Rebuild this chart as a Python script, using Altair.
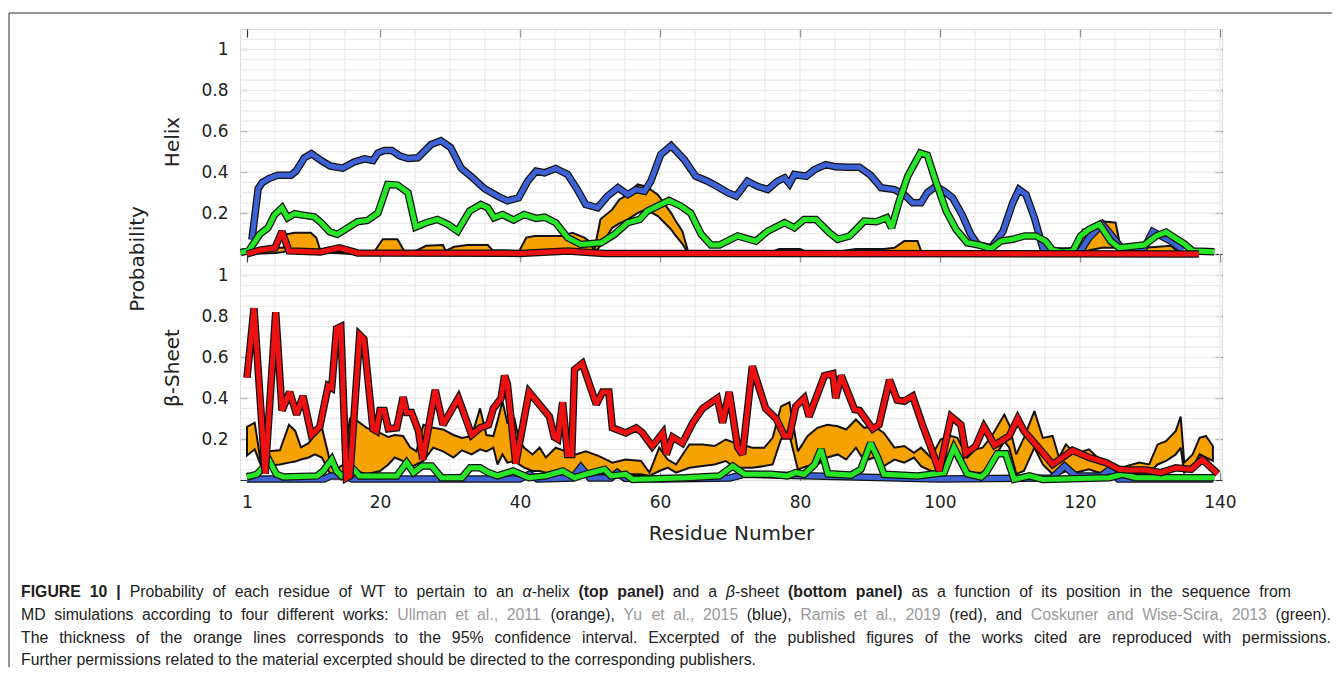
import altair as alt
import pandas as pd

# ---------------- values ----------------
# Helix (top panel)
helix_blue_x = [1.7, 2.6, 3.2, 4.2, 5.4, 7.3, 8, 9.2, 10.2, 11.6, 12.9, 14.7, 16.3, 17.8, 19, 19.7, 20.6, 21.7, 22.8, 24,
                25.4, 27.3, 28.7, 30.1, 31.6, 33, 34.9, 36.8, 38.2, 39.8, 41.1, 42.3, 43.5, 45.1, 46.8, 48.2, 49.4, 51.1,
                52.5, 54, 55.4, 56.6, 57.8, 58.7, 60.1, 61.6, 63.5, 65.1, 66.8, 68.2, 69.7, 70.9, 72.5, 74, 75.4, 76.8,
                77.8, 78.5, 79.2, 80.9, 82.1, 83.7, 85.1, 86.8, 88.5, 90.1, 91.6, 93.5, 94.9, 96.1, 97.3, 98.2, 99.4,
                100.6, 101.8, 103.2, 104.4, 105.4, 107.3, 109, 110.4, 111.3, 112.3, 113.5, 114.7, 115.9, 118.2, 120.1,
                121.3, 123.2, 124.4, 125.9, 129.2, 130.4, 131.6, 133, 134.7]
helix_blue_y = [0.07, 0.32, 0.35, 0.37, 0.385, 0.385, 0.405, 0.47, 0.49, 0.457, 0.43, 0.42, 0.45, 0.465, 0.457, 0.494,
                0.506, 0.506, 0.48, 0.467, 0.47, 0.535, 0.554, 0.52, 0.42, 0.38, 0.32, 0.283, 0.26, 0.275, 0.356, 0.405,
                0.397, 0.418, 0.389, 0.315, 0.242, 0.226, 0.283, 0.324, 0.291, 0.315, 0.307, 0.356, 0.486, 0.53, 0.46,
                0.38, 0.356, 0.33, 0.30, 0.283, 0.356, 0.33, 0.315, 0.356, 0.372, 0.343, 0.389, 0.38, 0.413, 0.437,
                0.426, 0.424, 0.424, 0.385, 0.324, 0.315, 0.29, 0.25, 0.25, 0.30, 0.33, 0.307, 0.275, 0.19, 0.096,
                0.047, 0.03, 0.11, 0.25, 0.315, 0.29, 0.177, 0.03, 0.015, 0.015, 0.015, 0.08, 0.145, 0.096, 0.03, 0.03,
                0.11, 0.088, 0.063, 0.018]
helix_green_x = [0.1, 1.3, 2.8, 4, 4.9, 6, 6.8, 7.8, 9, 10.6, 11.6, 12.8, 13.9, 15.4, 16.8, 18.2, 19.7, 21.1, 22.5, 24,
                 25.1, 26.6, 28.2, 29.7, 31.1, 32.8, 34.4, 35.4, 36.3, 37.5, 39.1, 40.6, 42.3, 43.5, 45.1, 46.8, 48.7,
                 51.6, 53.5, 55.4, 57.1, 58.2, 61.3, 63, 64.4, 65.9, 67.3, 68.5, 71.1, 73.7, 75.4, 77.8, 79.2, 80.6,
                 82.3, 84.2, 85.4, 87.1, 89.2, 90.9, 92.4, 93.1, 94.2, 95.4, 96.3, 97.2, 98.2, 99.4, 100.9, 102.3,
                 103.9, 105.6, 107.3, 108.7, 110.4, 112.1, 113.7, 115.1, 116.1, 117.5, 119, 120.1, 121.3, 122.8, 124.4,
                 125.6, 129.2, 130.9, 132.3, 133.5, 134.9, 136.1, 139.2]
helix_green_y = [0.007, 0.018, 0.096, 0.128, 0.19, 0.226, 0.177, 0.197, 0.19, 0.182, 0.153, 0.109, 0.096, 0.128, 0.158,
                 0.164, 0.2, 0.34, 0.337, 0.3, 0.132, 0.153, 0.169, 0.145, 0.112, 0.21, 0.242, 0.226, 0.177, 0.193,
                 0.166, 0.193, 0.174, 0.18, 0.153, 0.08, 0.047, 0.055, 0.096, 0.153, 0.169, 0.21, 0.262, 0.234, 0.2,
                 0.096, 0.044, 0.044, 0.088, 0.063, 0.112, 0.153, 0.128, 0.169, 0.169, 0.104, 0.072, 0.088, 0.161,
                 0.158, 0.177, 0.128, 0.26, 0.38, 0.437, 0.494, 0.483, 0.356, 0.21, 0.12, 0.055, 0.044, 0.026, 0.063,
                 0.072, 0.088, 0.088, 0.063, 0.018, 0.01, 0.015, 0.088, 0.12, 0.145, 0.063, 0.031, 0.044, 0.088,
                 0.107, 0.08, 0.05, 0.015, 0.011]
helix_red_x = [1, 3, 5, 6, 7, 11.5, 14.2, 16.8, 40, 46.8, 52, 137]
helix_red_y = [0, 0.02, 0.03, 0.11, 0.015, 0.01, 0.03, 0.005, 0.003, 0.015, 0.003, 0]
helix_orange_x = [1, 3, 5, 6.2, 6.6, 7.8, 10.1, 10.9, 11.5, 16, 19.2, 20.4, 22.5, 23.5, 24.9, 26.6, 29, 29.4, 30.6,
                  32.5, 35.4, 36.1, 39.9, 40.9, 42.1, 45.9, 47.5, 49.2, 49.9, 50.6, 51.5, 53.2, 54.2, 55.4, 56.8, 58,
                  59.7, 61.6, 62.1, 63.2, 64, 76, 77, 80, 81, 86, 88, 92, 93.5, 94.9, 96.8, 97.3, 120, 120.4, 121.5,
                  123.2, 125.1, 125.9, 129.2, 133, 134, 137]
helix_orange_lo = [0, 0.003, 0.005, 0.01, 0.015, 0.02, 0.015, 0.01, 0.008, 0, 0.003, 0.01, 0.01, 0.004, 0.004, 0.01,
                   0.01, 0.005, 0.01, 0.01, 0.01, 0.005, 0.005, 0.01, 0.01, 0.01, 0.01, 0.01, 0.01, 0.005, 0.04, 0.128,
                   0.15, 0.169, 0.2, 0.218, 0.185, 0.12, 0.096, 0.05, 0.005, 0.003, 0.005, 0.005, 0.003, 0.005, 0.005,
                   0.005, 0.01, 0.01, 0.01, 0.005, 0.003, 0.01, 0.02, 0.03, 0.03, 0.01, 0.01, 0.01, 0.005, 0]
helix_orange_hi = [0.005, 0.02, 0.03, 0.03, 0.096, 0.104, 0.104, 0.08, 0.015, 0.01, 0.012, 0.072, 0.072, 0.012, 0.012,
                   0.04, 0.044, 0.015, 0.035, 0.044, 0.044, 0.018, 0.015, 0.08, 0.088, 0.088, 0.104, 0.08, 0.063,
                   0.015, 0.17, 0.218, 0.267, 0.29, 0.34, 0.33, 0.29, 0.2, 0.17, 0.112, 0.015, 0.01, 0.025, 0.025,
                   0.01, 0.015, 0.025, 0.025, 0.03, 0.063, 0.063, 0.015, 0.01, 0.12, 0.13, 0.16, 0.153, 0.015, 0.03,
                   0.04, 0.012, 0.005]

# Beta-sheet (bottom panel)
sheet_blue_x = [1, 12, 13, 15, 16, 40, 41.3, 42.5, 47.5, 48.7, 50, 53, 53.9, 55, 60, 70, 72, 100, 116, 117.8, 119.4,
                123, 124.2, 125.5, 139]
sheet_blue_y = [0.005, 0.005, 0.02, 0.02, 0.005, 0.005, 0.028, 0.005, 0.01, 0.063, 0.01, 0.01, 0.036, 0.008, 0.005,
                0.01, 0.028, 0.005, 0.01, 0.068, 0.02, 0.02, 0.05, 0.005, 0.005]
sheet_green_x = [1, 2.4, 3.3, 4.2, 5.2, 6.2, 11, 11.9, 13.1, 13.8, 14.5, 16, 17.1, 22.4, 23.8, 24.8, 26, 27.4, 28.8,
                 31.7, 32.9, 34.3, 35.5, 36.8, 39, 41.3, 43.7, 46.1, 47.8, 49.4, 52.1, 53, 55.1, 56.1, 63.7, 68.5, 70.4,
                 72.1, 75.9, 78.2, 79.4, 80.6, 82.1, 83, 84, 87.3, 88.7, 90.1, 91.1, 92, 96.8, 100.6, 102, 103.9,
                 105.9, 106.6, 108.2, 109.4, 110.6, 112.8, 114.7, 124.2, 126.1, 128, 139.2]
sheet_green_y = [0.015, 0.028, 0.06, 0.093, 0.028, 0.015, 0.02, 0.044, 0.10, 0.044, 0.02, 0.06, 0.02, 0.02, 0.085,
                 0.036, 0.068, 0.068, 0.011, 0.011, 0.06, 0.06, 0.036, 0.02, 0.044, 0.011, 0.02, 0.044, 0.011, 0.028,
                 0.052, 0.02, 0.028, 0.003, 0.011, 0.02, 0.068, 0.028, 0.028, 0.02, 0.036, 0.028, 0.076, 0.15, 0.03,
                 0.024, 0.052, 0.18, 0.11, 0.028, 0.02, 0.036, 0.158, 0.03, 0.015, 0.036, 0.128, 0.128, 0.003, 0.02,
                 0.003, 0.011, 0.028, 0.011, 0.011]
sheet_red_x = [1, 2, 3.6, 5.1, 6, 7.1, 8.1, 9, 10.2, 11.4, 12.6, 13.1, 13.8, 14.4, 15.2, 15.7, 17.1, 17.7, 19, 19.5, 20,
               20.6, 21.2, 22.4, 23.3, 23.8, 24.5, 25.5, 26.1, 27.9, 29, 31.2, 33.1, 34.3, 35.5, 36.2, 37.3, 37.8,
               38.2, 39.4, 41.3, 44.2, 44.9, 45.4, 46.1, 46.8, 47.4, 47.8, 48.9, 50.9, 51.8, 52.7, 53.2, 55.1, 56.6,
               57.5, 58.9, 60.4, 60.9, 61.8, 63.2, 64.7, 66.1, 68.2, 68.95, 69.9, 71.1, 71.8, 73.2, 75.1, 76.6, 77.8,
               78.5, 79.4, 80.6, 81.3, 83.5, 84.7, 85.1, 85.9, 87.8, 88.5, 90.4, 91.3, 92.8, 93.9, 94.9, 96.1, 97.5,
               98.7, 99.9, 101.6, 103, 103.7, 105.1, 106.3, 107.8, 109.9, 111.1, 112, 113.9, 116.1, 118.95, 121.3,
               123.7, 125.6, 127, 129.4, 131.6, 133.7, 135.9, 137.5, 139.7]
sheet_red_y = [0.50, 0.84, 0.03, 0.82, 0.34, 0.43, 0.32, 0.41, 0.22, 0.26, 0.46, 0.45, 0.74, 0.75, 0.01, 0.02, 0.71,
               0.69, 0.25, 0.24, 0.34, 0.34, 0.25, 0.255, 0.405, 0.33, 0.33, 0.24, 0.10, 0.44, 0.27, 0.40, 0.22, 0.255,
               0.27, 0.35, 0.40, 0.51, 0.47, 0.08, 0.43, 0.31, 0.21, 0.20, 0.38, 0.125, 0.125, 0.54, 0.57, 0.37, 0.43,
               0.43, 0.255, 0.23, 0.255, 0.23, 0.165, 0.23, 0.125, 0.21, 0.18, 0.28, 0.35, 0.40, 0.28, 0.43, 0.16,
               0.125, 0.556, 0.35, 0.30, 0.215, 0.215, 0.36, 0.40, 0.31, 0.51, 0.52, 0.40, 0.51, 0.345, 0.34, 0.25,
               0.27, 0.49, 0.39, 0.385, 0.41, 0.27, 0.16, 0.044, 0.31, 0.27, 0.13, 0.165, 0.26, 0.17, 0.215, 0.30,
               0.24, 0.165, 0.076, 0.145, 0.11, 0.085, 0.052, 0.049, 0.049, 0.036, 0.06, 0.052, 0.10, 0.03]
sheet_orange_x = [1, 2.1, 3, 3.8, 5.7, 7, 7.9, 8.7, 9.8, 10.7, 11.7, 12.8, 13.6, 14.8, 15.7, 16.7, 18.1, 20, 21.2, 22.1,
                  23.3, 24.3, 25.2, 26.2, 27.6, 29, 30.5, 31.7, 33.1, 34.3, 35.2, 36.2, 36.8, 37.5, 38.2, 39.2, 39.9,
                  40.6, 41.8, 42.8, 43.7, 45.1, 46.6, 48, 49.4, 51.3, 53.2, 55.1, 57.3, 58.5, 59.9, 61.1, 62.3, 64.2,
                  66.1, 67.8, 69.4, 70.8, 71.6, 73.2, 74.9, 76.1, 77.3, 78.5, 79.7, 81.1, 82.5, 83.9, 85.4, 86.6, 88,
                  89.2, 90.6, 92, 93.5, 94.9, 96.3, 97.3, 98.7, 100.1, 101.6, 102.5, 103.9, 105.1, 106.1, 107.5, 109.2,
                  109.9, 110.9, 112, 113.5, 114.7, 116.1, 117, 118, 119, 119.9, 121.3, 122.3, 123.7, 125.1, 126.6,
                  128.5, 129.9, 131.1, 132.3, 133.7, 134.4, 134.9, 136.1, 137.1, 138, 139]
sheet_orange_lo = [0.12, 0.15, 0.07, 0.07, 0.076, 0.085, 0.09, 0.10, 0.11, 0.125, 0.11, 0.036, 0.028, 0.036, 0.076,
                   0.044, 0.028, 0.044, 0.076, 0.11, 0.093, 0.06, 0.076, 0.093, 0.158, 0.14, 0.11, 0.145, 0.125, 0.15,
                   0.14, 0.158, 0.076, 0.125, 0.085, 0.093, 0.076, 0.06, 0.044, 0.044, 0.036, 0.036, 0.036, 0.028,
                   0.036, 0.028, 0.024, 0.028, 0.028, 0.02, 0.044, 0.06, 0.036, 0.06, 0.068, 0.076, 0.093, 0.06, 0.06,
                   0.06, 0.068, 0.076, 0.2, 0.22, 0.052, 0.068, 0.076, 0.11, 0.125, 0.10, 0.158, 0.093, 0.11, 0.068,
                   0.10, 0.085, 0.11, 0.068, 0.044, 0.044, 0.158, 0.093, 0.044, 0.036, 0.036, 0.093, 0.19, 0.158, 0.03,
                   0.044, 0.158, 0.076, 0.028, 0.028, 0.044, 0.036, 0.04, 0.052, 0.04, 0.028, 0.02, 0.02, 0.036, 0.036,
                   0.076, 0.093, 0.125, 0.158, 0.036, 0.06, 0.125, 0.11, 0.093]
sheet_orange_hi = [0.26, 0.28, 0.08, 0.14, 0.145, 0.27, 0.24, 0.16, 0.18, 0.22, 0.255, 0.10, 0.05, 0.076, 0.30, 0.29,
                   0.255, 0.23, 0.21, 0.22, 0.215, 0.16, 0.14, 0.27, 0.255, 0.247, 0.22, 0.206, 0.215, 0.35, 0.22,
                   0.215, 0.29, 0.385, 0.28, 0.30, 0.19, 0.158, 0.125, 0.158, 0.11, 0.158, 0.14, 0.125, 0.14, 0.117,
                   0.085, 0.10, 0.093, 0.036, 0.158, 0.10, 0.076, 0.174, 0.174, 0.166, 0.198, 0.18, 0.174, 0.158, 0.158,
                   0.206, 0.36, 0.38, 0.14, 0.215, 0.255, 0.27, 0.263, 0.247, 0.296, 0.255, 0.263, 0.23, 0.158, 0.166,
                   0.133, 0.158, 0.11, 0.198, 0.215, 0.206, 0.11, 0.15, 0.158, 0.22, 0.32, 0.27, 0.125, 0.206, 0.337,
                   0.206, 0.215, 0.11, 0.174, 0.14, 0.133, 0.15, 0.117, 0.093, 0.044, 0.068, 0.085, 0.076, 0.174, 0.19,
                   0.24, 0.31, 0.085, 0.125, 0.206, 0.215, 0.166]

residue_ticks = [1, 20, 40, 60, 80, 100, 120, 140]
prob_ticks = [0, 0.2, 0.4, 0.6, 0.8, 1]
grid_residues = [5, 10, 15, 20, 25, 30, 35, 40, 45, 50, 55, 60, 65, 70, 75, 80, 85, 90, 95, 100, 105, 110, 115, 120,
                 125, 130, 135, 140]
grid_probs = [0.05, 0.1, 0.15, 0.2, 0.25, 0.3, 0.35, 0.4, 0.45, 0.5, 0.55, 0.6, 0.65, 0.7, 0.75, 0.8, 0.85, 0.9, 0.95,
              1.0, 1.05]

title_top = "Helix"
title_bottom = "β-Sheet"
title_shared = "Probability"
title_x = "Residue Number"

caption_lines = [
    [("FIGURE 10 | ", "b"), ("Probability of each residue of WT to pertain to an ", "n"), ("α", "i"),
     ("-helix ", "n"), ("(top panel)", "b"), (" and a ", "n"), ("β", "i"), ("-sheet ", "n"),
     ("(bottom panel)", "b"), (" as a function of its position in the sequence from", "n")],
    [("MD simulations according to four different works: ", "n"), ("Ullman et al., 2011", "g"),
     (" (orange), ", "n"), ("Yu et al., 2015", "g"), (" (blue), ", "n"), ("Ramis et al., 2019", "g"),
     (" (red), and ", "n"), ("Coskuner and Wise-Scira, 2013", "g"), (" (green).", "n")],
    [("The thickness of the orange lines corresponds to the 95% confidence interval. Excerpted of the published "
      "figures of the works cited are reproduced with permissions.", "n")],
    [("Further permissions related to the material excerpted should be directed to the corresponding publishers.",
      "n")],
]

# ---------------- styling / layout ----------------
PW, PH = 982, 451                 # plot area: both panels stacked
OX, OY = 239, 28                  # page position of the plot origin
TOP_RANGE = [225, 0]              # pixel range of the helix panel
BOT_RANGE = [451, 226]            # pixel range of the beta-sheet panel
FONT = "DejaVu Sans"
CAPFONT = "Liberation Sans"
BLUE, GREEN, RED, ORANGE = "#3d62d6", "#27e627", "#ee1111", "#f6a200"
INK = "#111111"
GRID = "#e9e9e9"

# Arial / Liberation Sans advance widths (per 1000 em) used to lay out caption words
REG = {' ': 278, '%': 889, '(': 333, ')': 333, ',': 278, '-': 333, '.': 278, ':': 278, '|': 260,
       'A': 667, 'B': 667, 'C': 722, 'D': 722, 'E': 667, 'F': 611, 'G': 778, 'H': 722, 'I': 278, 'J': 500,
       'K': 667, 'L': 556, 'M': 833, 'N': 722, 'O': 778, 'P': 667, 'Q': 778, 'R': 722, 'S': 667, 'T': 611,
       'U': 722, 'V': 667, 'W': 944, 'X': 667, 'Y': 667, 'Z': 611,
       'a': 556, 'b': 556, 'c': 500, 'd': 556, 'e': 556, 'f': 278, 'g': 556, 'h': 556, 'i': 222, 'j': 222,
       'k': 500, 'l': 222, 'm': 833, 'n': 556, 'o': 556, 'p': 556, 'q': 556, 'r': 333, 's': 500, 't': 278,
       'u': 556, 'v': 500, 'w': 722, 'x': 500, 'y': 500, 'z': 500, 'α': 578, 'β': 574}
BOLD = {' ': 278, '(': 333, ')': 333, '|': 280, 'F': 611, 'G': 778, 'I': 278, 'R': 722, 'U': 722, 'E': 667,
        'a': 556, 'b': 611, 'c': 556, 'd': 611, 'e': 556, 'l': 278, 'm': 889, 'n': 611, 'o': 611, 'p': 611,
        't': 333}


def ch_width(ch, style, size):
    table = BOLD if style == "b" else REG
    return table.get(ch, 556) / 1000.0 * size


CAP_X0 = 20
CAP_END = [1290, 1330, 1330, None]      # justified right ends of the caption lines (last line: natural)
CAP_BASE = [596, 619, 642, 664]


def line_chars(runs):
    chars = [(ch, st) for s, st in runs for ch in s]
    while chars and chars[-1][0] == " ":
        chars.pop()
    return chars


# caption font size: the last (unjustified) line spans x 20 -> 755 in the reference
CAPSIZE = (755 - CAP_X0) / sum(ch_width(c, st, 1.0) for c, st in line_chars(caption_lines[3]))


def caption_words(runs, end):
    chars = line_chars(runs)
    natural = sum(ch_width(c, st, CAPSIZE) for c, st in chars)
    nsp = sum(1 for c, _ in chars if c == " ")
    extra = (end - CAP_X0 - natural) / nsp if (end and nsp) else 0.0
    words, x, cur, cur_st, cur_x = [], CAP_X0, "", None, 0.0
    for c, st in chars:
        if c == " " or (cur and st != cur_st):
            if cur:
                words.append((cur, cur_st, cur_x))
                cur = ""
        if c == " ":
            x += ch_width(c, st, CAPSIZE) + extra
            continue
        if not cur:
            cur_x, cur_st = x, st
        cur += c
        x += ch_width(c, st, CAPSIZE)
    if cur:
        words.append((cur, cur_st, cur_x))
    return words


XS = alt.Scale(domain=[0, 140.3], nice=False, zero=False)
ONE = pd.DataFrame({"k": [0]})


def X(field, axis=None):
    return alt.X(field, type="quantitative", scale=XS, axis=axis)


def Y(field, rng, axis=None):
    return alt.Y(field, type="quantitative",
                 scale=alt.Scale(domain=[0, 1.1], range=rng, nice=False, zero=False), axis=axis)


def series_lines(xv, yv, color, rng):
    df = pd.DataFrame({"residue": xv, "prob": yv})
    base = alt.Chart(df).encode(x=X("residue"), y=Y("prob", rng))
    return [
        base.mark_line(color=INK, strokeWidth=7.5, strokeJoin="miter", strokeMiterLimit=2.5),
        base.mark_line(color=color, strokeWidth=5, strokeJoin="miter", strokeMiterLimit=2.5),
    ]


def band(xv, lo, hi, rng):
    df = pd.DataFrame({"residue": xv, "lo": lo, "hi": hi})
    return alt.Chart(df).mark_area(fill=ORANGE, fillOpacity=1, stroke=INK, strokeWidth=2,
                                   strokeJoin="miter", strokeMiterLimit=2.5).encode(
        x=X("residue"), y=Y("lo", rng), y2=alt.Y2("hi"))


def axis_left(title):
    return alt.Axis(orient="left", values=prob_ticks, format="~g",
                    labelExpr="datum.value == 0 ? '' : datum.label",
                    tickSize=7, offset=-7, domain=False, grid=False, tickColor="#333", tickWidth=1.2,
                    labelFont=FONT, labelFontSize=17, labelColor="#222", labelPadding=12,
                    title=title, titleFont=FONT, titleFontSize=20, titleFontWeight="normal",
                    titleColor="#222", titlePadding=18)


AX_RIGHT = alt.Axis(orient="right", values=prob_ticks, tickSize=7, offset=-7, labels=False, domain=False,
                    grid=False, tickColor="#333", tickWidth=1.2, title=None)
AX_TOP = alt.Axis(orient="top", values=residue_ticks, tickSize=8, offset=-8, labels=False, domain=False,
                  grid=False, tickColor="#333", tickWidth=1.2, title=None)
AX_MID = alt.Axis(orient="top", values=residue_ticks, tickSize=8, offset=-(TOP_RANGE[0] + 8), labels=False,
                  domain=False, grid=False, tickColor="#333", tickWidth=1.2, title=None)
AX_BOTTOM = alt.Axis(orient="bottom", values=residue_ticks, tickSize=8, offset=-8, domain=False, grid=False,
                     tickColor="#333", tickWidth=1.2, labelFont=FONT, labelFontSize=17, labelColor="#222",
                     labelPadding=14, title=title_x, titleFont=FONT, titleFontSize=20,
                     titleFontWeight="normal", titleColor="#222", titlePadding=13)

layers = []
# vertical grid (carries the top residue ticks)
layers.append(alt.Chart(pd.DataFrame({"g": grid_residues})).mark_rule(color=GRID, strokeWidth=1.2).encode(
    x=X("g", AX_TOP)))
# residue ticks at the panel boundary and the labelled bottom axis
layers.append(alt.Chart(pd.DataFrame({"t": residue_ticks})).mark_rule(opacity=0).encode(x=X("t", AX_MID)))
layers.append(alt.Chart(pd.DataFrame({"t": residue_ticks})).mark_rule(opacity=0).encode(x=X("t", AX_BOTTOM)))
# horizontal grids (carry the left probability axes) and right-side ticks
for rng, ttl in [(TOP_RANGE, title_top), (BOT_RANGE, title_bottom)]:
    layers.append(alt.Chart(pd.DataFrame({"g": grid_probs})).mark_rule(color=GRID, strokeWidth=1.2).encode(
        y=Y("g", rng, axis_left(ttl))))
    layers.append(alt.Chart(pd.DataFrame({"t": prob_ticks})).mark_rule(opacity=0).encode(
        y=Y("t", rng, AX_RIGHT)))

# beta-sheet panel data
layers.append(band(sheet_orange_x, sheet_orange_lo, sheet_orange_hi, BOT_RANGE))
layers += series_lines(sheet_blue_x, sheet_blue_y, BLUE, BOT_RANGE)
layers += series_lines(sheet_green_x, sheet_green_y, GREEN, BOT_RANGE)
layers += series_lines(sheet_red_x, sheet_red_y, RED, BOT_RANGE)
# helix panel data
layers.append(band(helix_orange_x, helix_orange_lo, helix_orange_hi, TOP_RANGE))
layers += series_lines(helix_blue_x, helix_blue_y, BLUE, TOP_RANGE)
layers += series_lines(helix_green_x, helix_green_y, GREEN, TOP_RANGE)
layers += series_lines(helix_red_x, helix_red_y, RED, TOP_RANGE)

# shared y title
layers.append(alt.Chart(pd.DataFrame({"t": [title_shared]})).mark_text(
    angle=270, font=FONT, fontSize=20, color="#222", align="center", baseline="middle").encode(
    x=alt.value(137 - OX), y=alt.value(258 - OY), text="t:N"))

# figure box (top and left edges)
layers.append(alt.Chart(ONE).mark_rule(color="#6e6e6e", strokeWidth=1.5).encode(
    x=alt.value(8 - OX), x2=alt.value(1331 - OX), y=alt.value(12 - OY)))
layers.append(alt.Chart(ONE).mark_rule(color="#6e6e6e", strokeWidth=1.5).encode(
    x=alt.value(8 - OX), y=alt.value(12 - OY), y2=alt.value(666 - OY)))

# caption, justified word by word
for li, runs in enumerate(caption_lines):
    for word, st, wx in caption_words(runs, CAP_END[li]):
        mk = dict(align="left", baseline="alphabetic", font=CAPFONT, fontSize=CAPSIZE, color="#222")
        if st == "b":
            mk["fontWeight"] = "bold"
        if st == "i":
            mk["fontStyle"] = "italic"
        if st == "g":
            mk["color"] = "#9a9a9a"
        layers.append(alt.Chart(pd.DataFrame({"t": [word]})).mark_text(**mk).encode(
            x=alt.value(wx - OX), y=alt.value(CAP_BASE[li] - OY), text="t:N"))

chart = alt.layer(*layers).resolve_scale(y="independent").resolve_axis(
    x="independent", y="independent"
).properties(
    width=PW, height=PH,
    padding={"left": 0, "top": 4, "right": 0, "bottom": 0}
).configure_view(stroke="#8a8a8a", strokeWidth=1.5).configure(background="white")

chart.save("out.html", embed_options={"renderer": "svg", "actions": False})
